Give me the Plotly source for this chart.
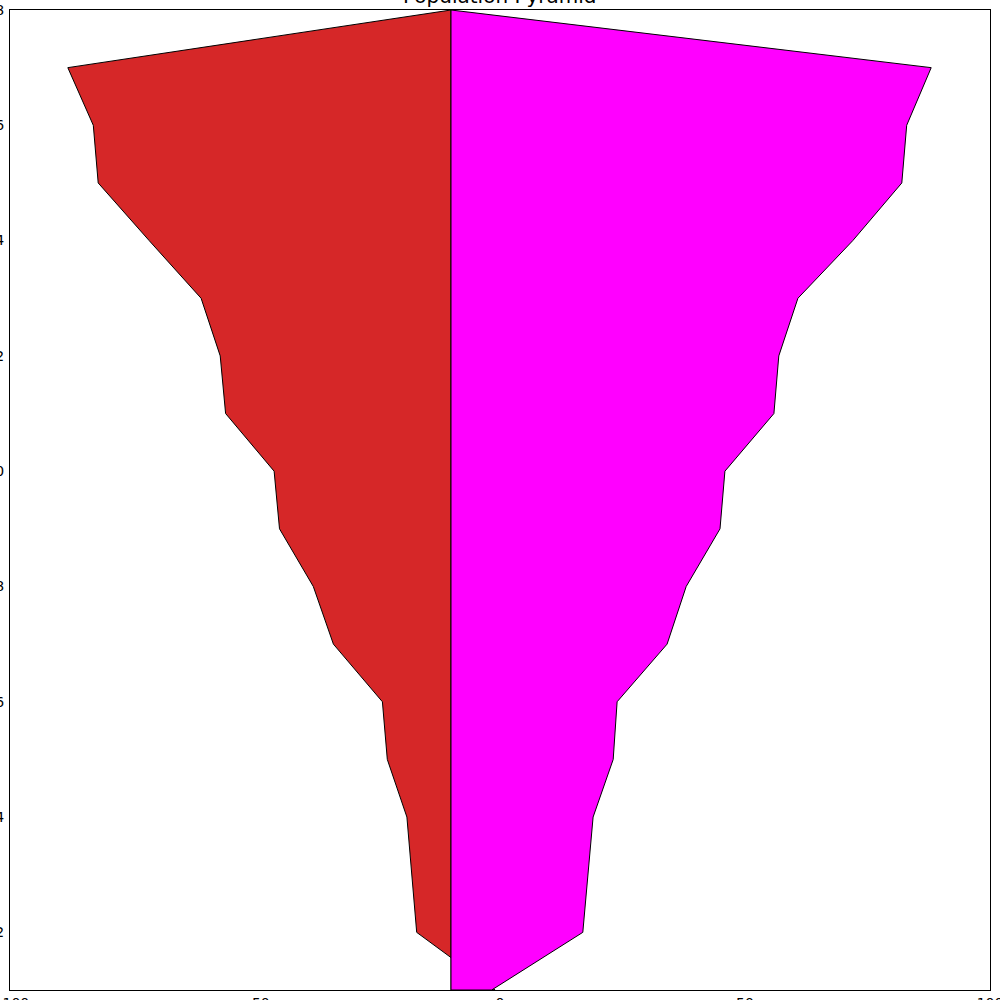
import plotly.graph_objects as go

# values (age group from top to bottom)
ages = [18, 17, 16, 15, 14, 13, 12, 11, 10, 9, 8, 7, 6, 5, 4, 3, 2, 1]
male = [-10.0, -88.2, -83.0, -82.0, -71.6, -61.0, -57.1, -56.0, -46.1, -45.0,
        -38.1, -34.0, -24.0, -23.0, -19.0, -18.0, -17.0, -1.0]
female = [-10.0, 88.0, 83.0, 82.0, 72.0, 60.8, 56.9, 55.9, 45.9, 44.9,
          38.0, 34.1, 23.9, 23.1, 19.0, 18.0, 16.9, -1.7]
base = -10

xticks = [-100, -50, 0, 50, 100]
yticks = [2, 4, 6, 8, 10, 12, 14, 16, 18]


def side(values, color):
    # polygon between the base line and the values
    xs = values + [base, base]
    ys = ages + [ages[-1], ages[0]]
    return go.Scatter(x=xs, y=ys, mode="lines", fill="toself",
                      fillcolor=color, line=dict(color="black", width=1),
                      hoverinfo="skip", showlegend=False)


fig = go.Figure()
fig.add_trace(side(male, "#d62728"))
fig.add_trace(side(female, "#ff00ff"))

axis_style = dict(showgrid=False, zeroline=False, showline=True, mirror=True,
                  linecolor="black", linewidth=1, ticks="", automargin=False,
                  ticklabeloverflow="allow",
                  tickfont=dict(family="DejaVu Sans", size=14, color="black"))

fig.update_xaxes(range=[-100, 100], tickvals=xticks, ticklabelstandoff=0, **axis_style)
fig.update_yaxes(range=[1, 18], tickvals=yticks, ticklabelstandoff=2, **axis_style)

fig.add_annotation(text="Population Pyramid", x=0.5, y=1, xref="paper", yref="paper",
                   xanchor="center", yanchor="bottom", showarrow=False, yshift=0,
                   font=dict(family="DejaVu Sans", size=20, color="black"))

fig.update_layout(width=1000, height=1000, plot_bgcolor="white", paper_bgcolor="white",
                  margin=dict(l=10, r=10, t=10, b=10))

# drop the default body margin so the figure sits at the page corner
fig.write_html("out.html", config={"displayModeBar": False},
               post_script="document.body.style.margin = '0';")
